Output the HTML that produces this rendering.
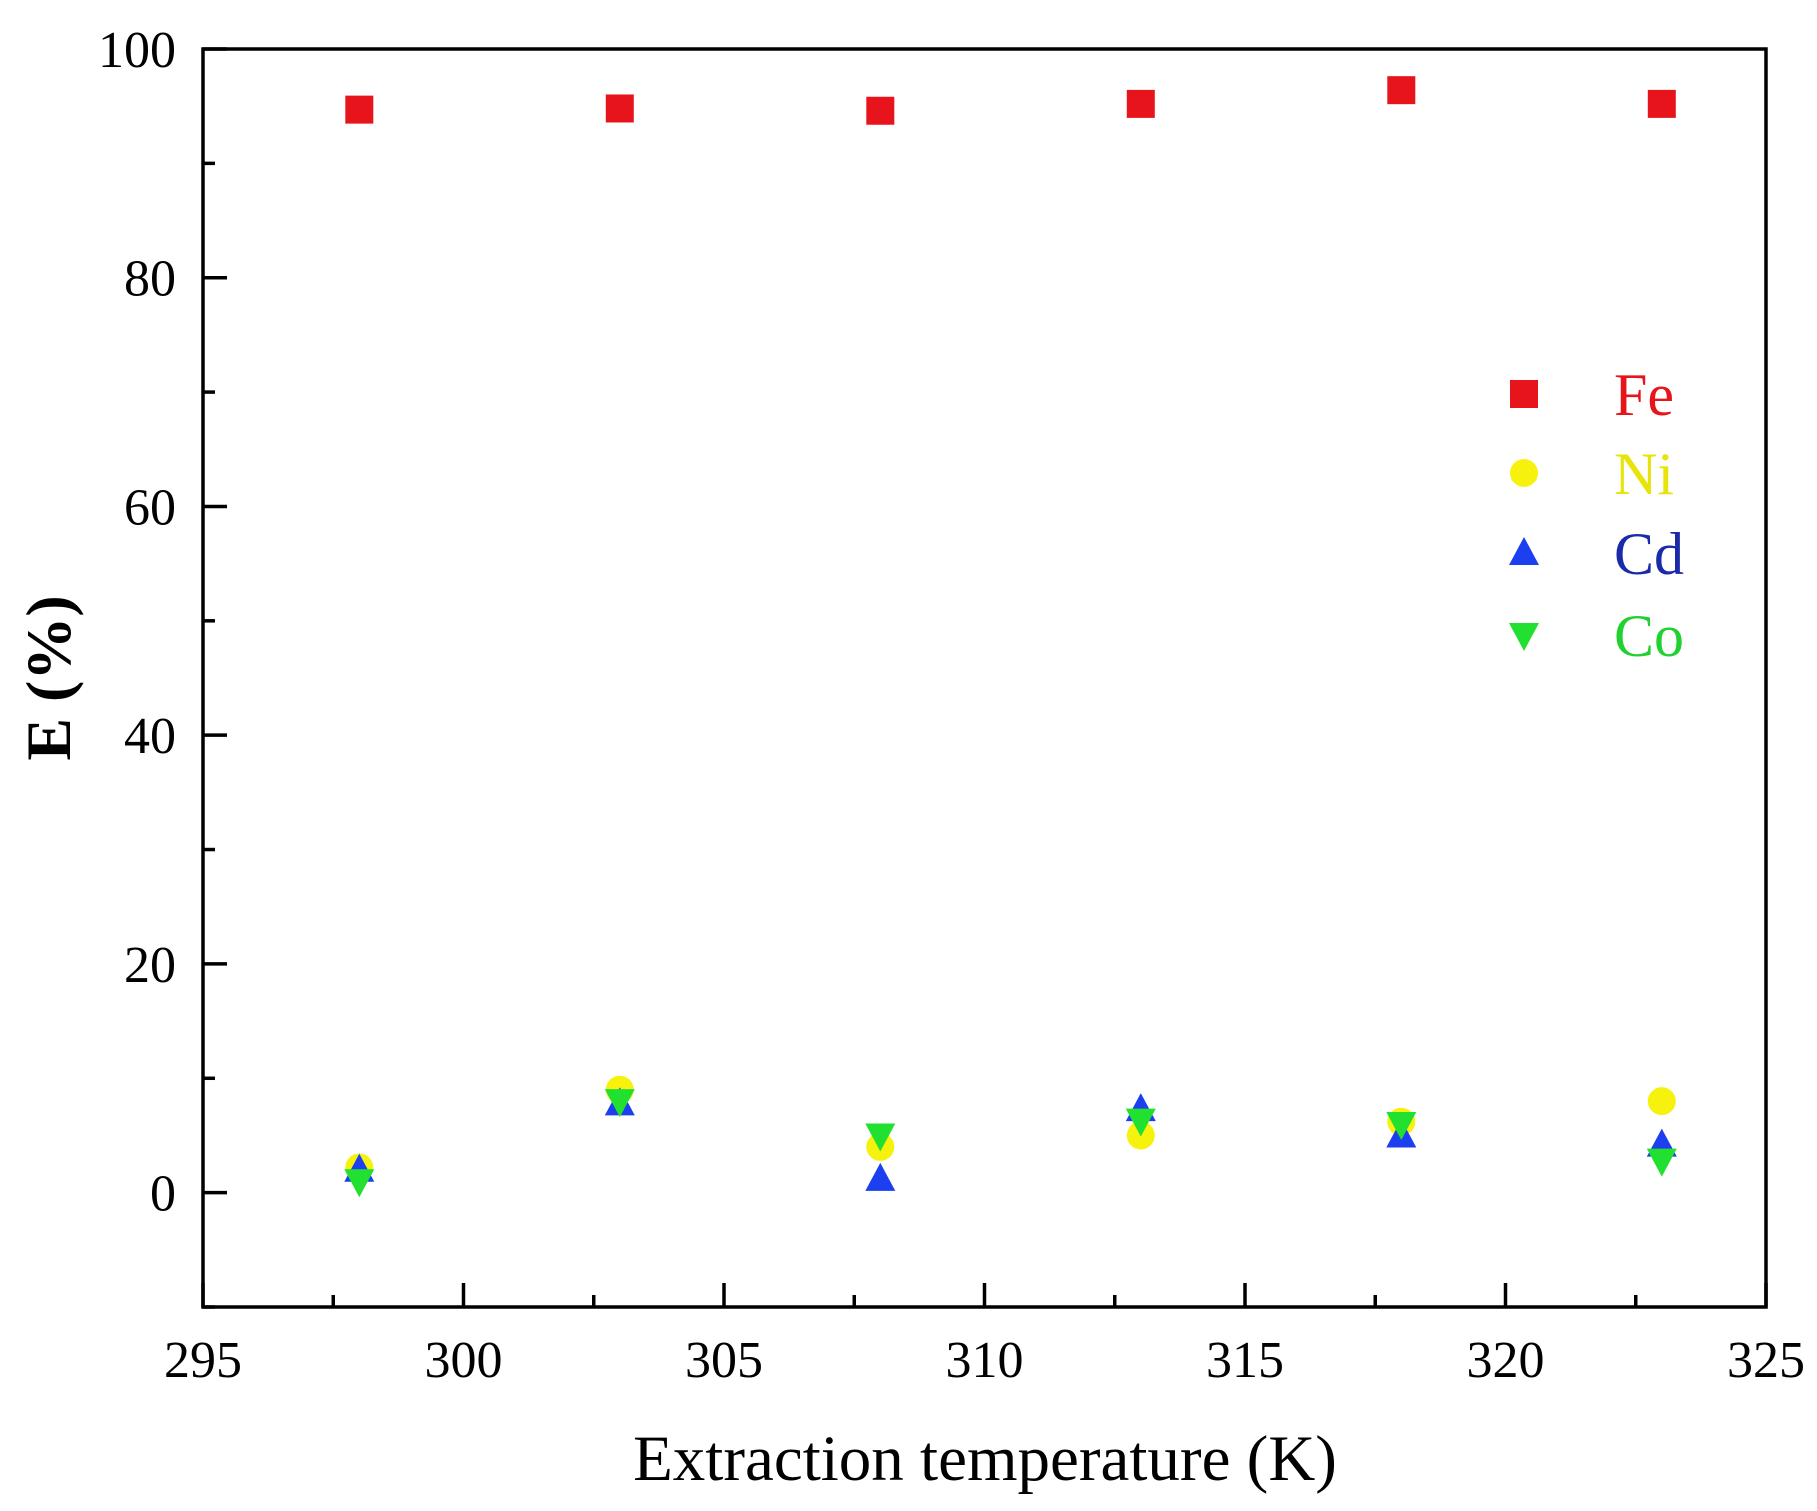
<!DOCTYPE html>
<html><head><meta charset="utf-8"><style>
body{margin:0;background:#fff}
svg{display:block;font-family:"Liberation Serif",serif}
</style></head><body>
<svg id="chart" width="1817" height="1511" viewBox="0 0 1817 1511" xmlns="http://www.w3.org/2000/svg">
<g id="axes"></g>
<g id="marks"></g>
<g id="legend"></g>
<text x="985" y="1480" font-size="65" text-anchor="middle">Extraction temperature (K)</text>
<text transform="translate(70,678) rotate(-90)" font-size="64" font-weight="bold" text-anchor="middle">E (%)</text>
</svg>
<script>
const temps=[298,303,308,313,318,323];
const fe=[94.7,94.8,94.6,95.2,96.4,95.2];
const ni=[2.2,9.0,4.0,5.0,6.2,8.0];
const cd=[2.0,7.8,1.2,7.3,5.0,4.2];
const co=[1.0,8.0,5.0,6.3,6.0,2.8];
const xTicks=[295,300,305,310,315,320,325];
const yTicks=[0,20,40,60,80,100];
const seriesNames=["Fe","Ni","Cd","Co"];

const L=203,R=1766,T=49,B=1307,xmin=295,xmax=325,ymin=-10,ymax=100;
const sx=v=>L+(v-xmin)/(xmax-xmin)*(R-L);
const sy=v=>B-(v-ymin)/(ymax-ymin)*(B-T);
const NS="http://www.w3.org/2000/svg";
function mk(tag,attrs,parent){const e=document.createElementNS(NS,tag);for(const k in attrs)e.setAttribute(k,attrs[k]);parent.appendChild(e);return e;}
const axes=document.getElementById('axes');
const frame=mk('rect',{x:L,y:T,width:R-L,height:B-T,fill:'none',stroke:'#000','stroke-width':3.5},axes);


xTicks.forEach((v,i)=>{
  const t=mk('line',{x1:sx(v),x2:sx(v),y1:B,y2:B-24,stroke:'#000','stroke-width':3.5},axes);
  
  
  if(i<xTicks.length-1){const m=mk('line',{x1:sx(v+2.5),x2:sx(v+2.5),y1:B,y2:B-12,stroke:'#000','stroke-width':3.5},axes);
  
  }
  const tx=mk('text',{x:sx(v),y:1377,'font-size':52,'text-anchor':'middle'},axes);tx.textContent=v;
  
  
});
yTicks.forEach((v,i)=>{
  const t=mk('line',{x1:L,x2:L+24,y1:sy(v),y2:sy(v),stroke:'#000','stroke-width':3.5},axes);
  
  
  const m=mk('line',{x1:L,x2:L+12,y1:sy(v-10),y2:sy(v-10),stroke:'#000','stroke-width':3.5},axes);
  
  
  const tx=mk('text',{x:176,y:sy(v)+18,'font-size':52,'text-anchor':'end'},axes);tx.textContent=v;
  
  
});
const marks=document.getElementById('marks');
function marker(type,x,y,color,parent){
  let e;
  if(type==='sq')e=mk('rect',{x:x-14,y:y-14,width:28,height:28,fill:color},parent);
  else if(type==='ci')e=mk('circle',{cx:x,cy:y,r:14,fill:color},parent);
  else if(type==='up')e=mk('polygon',{points:`${x},${y-16} ${x+15},${y+12} ${x-15},${y+12}`,fill:color},parent);
  else e=mk('polygon',{points:`${x},${y+16} ${x+15},${y-12} ${x-15},${y-12}`,fill:color},parent);
  return e;
}
const series=[[fe,'sq','#e8141c'],[ni,'ci','#f7f20d'],[cd,'up','#1c3ff0'],[co,'dn','#22e030']];
series.forEach((s,si)=>{
  s[0].forEach((v,i)=>{
    const e=marker(s[1],sx(temps[i]),sy(v),s[2],marks);
    
    
  });
});
const legend=document.getElementById('legend');
const lc=['#e8141c','#e8e40a','#1a2aa8','#22d030'];
const ly=[394,473,553,635];
series.forEach((s,si)=>{
  const e=marker(s[1],1524,ly[si],s[2],legend);
  
  
  const t=mk('text',{x:1614,y:ly[si]+21,'font-size':60,fill:lc[si]},legend);t.textContent=seriesNames[si];
  
  
});
</script>
</body></html>
